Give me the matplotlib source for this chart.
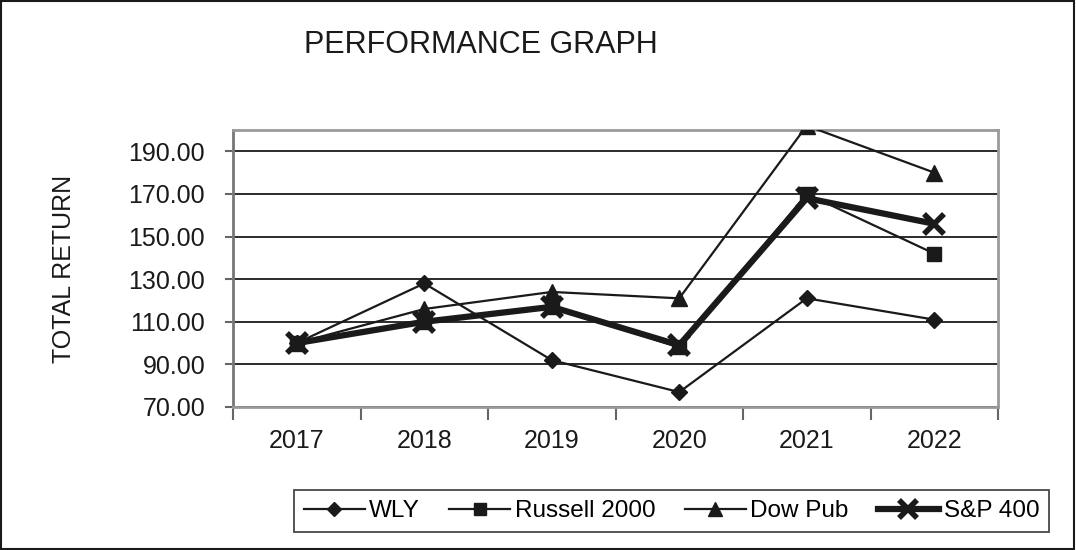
import numpy as np
import matplotlib.pyplot as plt
from matplotlib.patches import Rectangle

plt.rcParams['font.family'] = ['Liberation Sans', 'DejaVu Sans']

# Data
years = ['2017', '2018', '2019', '2020', '2021', '2022']
wly = [100, 128, 92, 77, 121, 111]
russell_2000 = [100, 110, 117, 98, 170, 142]
dow_pub = [100, 116, 124, 121, 202, 180]
sp_400 = [100, 110, 117, 99, 168, 156]

ink = '#1a1a1a'

fig = plt.figure(figsize=(10.76, 5.5), dpi=100)
ax = fig.add_axes([233 / 1076, 1 - 407 / 550, 765 / 1076, 277 / 550])

x = np.arange(len(years))
ax.plot(x, wly, color=ink, lw=1.6, marker='D', ms=8, label='WLY', zorder=3)
ax.plot(x, russell_2000, color=ink, lw=1.6, marker='s', ms=10, label='Russell 2000', zorder=3)
ax.plot(x, dow_pub, color=ink, lw=1.6, marker='^', ms=11, label='Dow Pub', zorder=3)
ax.plot(x, sp_400, color=ink, lw=4.5, marker='x', ms=15, mew=4,
        label='S&P 400', zorder=4)

ax.set_xlim(-0.5, len(years) - 0.5)
ax.set_ylim(70, 200)
ax.set_yticks(np.arange(70, 191, 20))
ax.set_yticklabels([f'{v:.2f}' for v in np.arange(70, 191, 20)], fontsize=18, color=ink)

# category boundaries carry the tick marks, centres carry the labels
ax.set_xticks(np.arange(-0.5, len(years)), [''] * (len(years) + 1))
ax.set_xticks(x, years, minor=True, fontsize=18, color=ink)
ax.tick_params(axis='x', which='major', direction='out', length=9, width=1.5, color='#666666')
ax.tick_params(axis='x', which='minor', length=0, pad=16)
ax.tick_params(axis='y', direction='out', length=6, width=1.5, color='#666666', pad=14)

ax.yaxis.grid(True, color=ink, lw=1.3)
ax.set_axisbelow(True)
for side, sp in ax.spines.items():
    sp.set_color('#9a9a9a')
    sp.set_linewidth(2)
ax.spines['left'].set_color('#777777')

ax.set_ylabel('TOTAL RETURN', fontsize=18, color=ink, labelpad=38)
fig.text(481 / 1076, 1 - 45 / 550, 'PERFORMANCE GRAPH', fontsize=22,
         color=ink, ha='center', va='center')

leg = fig.legend(loc='center', bbox_to_anchor=((293 + 1050) / 2 / 1076, 1 - 511 / 550),
                 ncol=4, fontsize=17.5, frameon=True, fancybox=False, edgecolor=ink,
                 handlelength=2.5, columnspacing=1.2, handletextpad=0.2,
                 borderpad=0.4, markerscale=0.9)
leg.get_frame().set_linewidth(1.3)

fig.patches.append(Rectangle((0.001, 0.002), 0.997, 0.996, transform=fig.transFigure,
                             fill=False, edgecolor=ink, lw=1.5))

fig.savefig('out.png', dpi=100)
